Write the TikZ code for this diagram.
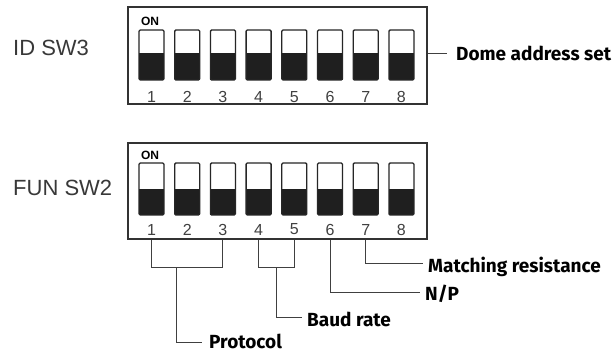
\documentclass[tikz,border=0pt]{standalone}
\usepackage{fontspec}
\setmainfont{Liberation Sans}
\newfontfamily\labelfont{Fira Sans}
\begin{document}
\begin{tikzpicture}[x=1pt,y=-1pt,
  frame/.style={draw=black!80,line width=1.1pt,inner sep=0pt,minimum width=299pt},
  sw/.style={draw=black!85,line width=1.3pt,rounded corners=1.2pt,minimum width=25pt,inner sep=0pt},
  num/.style={font=\fontsize{16}{16}\selectfont,text=black!75,inner sep=0pt},
  onlbl/.style={font=\fontsize{12}{12}\selectfont\bfseries,inner sep=0pt},
  swname/.style={font=\fontsize{22}{22}\selectfont,text=black!78,anchor=west,inner sep=0pt},
  tag/.style={font=\labelfont\fontsize{19}{19}\selectfont\bfseries,anchor=base west,inner sep=0pt},
  wire/.style={draw=black!75,line width=0.9pt}]
\useasboundingbox (0,0) rectangle (613,354);
\fill[white] (0,0) rectangle (613,354);

% switch labels
\node[swname] (idsw) at (13,48) {ID SW3};
\node[swname] (funsw) at (13,188) {FUN SW2};

% upper DIP switch block
\node[frame,minimum height=97pt] (boxA) at (277.5,55.5) {};
\node[onlbl] (onA) at (150,21) {ON};
\foreach \i in {1,...,8}{
  \pgfmathsetmacro{\cx}{151.5+(\i-1)*35.7}
  \fill[black!88] (\cx-12.5,53) rectangle (\cx+12.5,80);
  \node[sw,minimum height=50pt] (a\i) at (\cx,55) {};
  \node[num] (an\i) at (\cx,97) {\i};
}

% lower DIP switch block
\node[frame,minimum height=96pt] (boxB) at (277.5,191) {};
\node[onlbl] (onB) at (150,155) {ON};
\foreach \i in {1,...,8}{
  \pgfmathsetmacro{\cx}{151.5+(\i-1)*35.7}
  \fill[black!88] (\cx-12.5,189) rectangle (\cx+12.5,215);
  \node[sw,minimum height=52pt] (b\i) at (\cx,189) {};
  \node[num] (bn\i) at (\cx,229.5) {\i};
}

% function labels (placed on their baselines)
\node[tag] (dome) at (456,60) {Dome address set};
\node[tag] (match) at (428,272) {Matching resistance};
\node[tag] (np) at (425,300) {N/P};
\node[tag] (baud) at (307,326) {Baud rate};
\node[tag] (proto) at (209,348.5) {Protocol};

% leader lines
\draw[wire] (boxA.east |- 0,53.5) -- ([shift={(-9,-6.5)}]dome.base west);
\coordinate (pj) at (176,267);
\coordinate (bj) at (276,267);
\draw[wire] (b1 |- boxB.south) -- (b1 |- pj) -- (b3 |- pj) -- (b3 |- boxB.south);
\draw[wire] (pj) |- ([shift={(-7,-6)}]proto.base west);
\draw[wire] (b4 |- boxB.south) -- (b4 |- bj) -- (b5 |- bj) -- (b5 |- boxB.south);
\draw[wire] (bj) |- ([shift={(-5,-9)}]baud.base west);
\draw[wire] (b6 |- boxB.south) |- ([shift={(-5,-8)}]np.base west);
\draw[wire] (b7 |- boxB.south) |- ([shift={(-5,-9)}]match.base west);
\end{tikzpicture}
\end{document}
